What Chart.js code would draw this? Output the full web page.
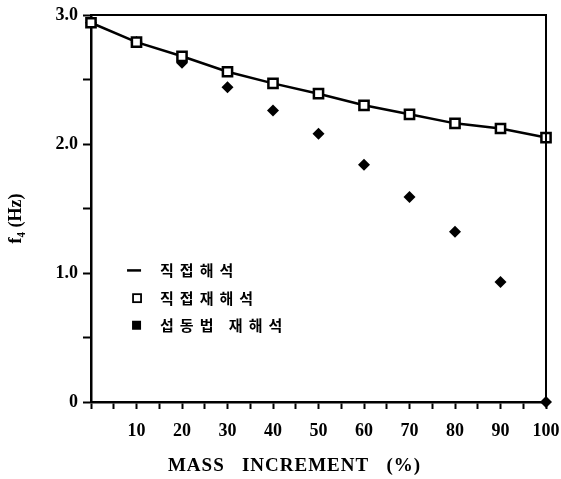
<!DOCTYPE html>
<html>
<head>
<meta charset="utf-8">
<script src="https://cdn.jsdelivr.net/npm/chart.js@4.4.0/dist/chart.umd.min.js"></script>
<style>
  html, body { margin: 0; padding: 0; background: #fff; }
  #wrap { width: 561px; height: 479px; position: relative; }
</style>
</head>
<body>
<div id="wrap"><canvas id="c" width="561" height="479"></canvas></div>
<script>
// ---- data ----
const massIncrement = [0, 10, 20, 30, 40, 50, 60, 70, 80, 90, 100];
const directAnalysis = [2.94, 2.79, 2.68, 2.56, 2.47, 2.39, 2.30, 2.23, 2.16, 2.12, 2.05];
const directReanalysis = [2.94, 2.79, 2.68, 2.56, 2.47, 2.39, 2.30, 2.23, 2.16, 2.12, 2.05];
const perturbationReanalysis = [2.94, 2.79, 2.63, 2.44, 2.26, 2.08, 1.84, 1.59, 1.32, 0.93, 0.0];
const xMajorTicks = [10, 20, 30, 40, 50, 60, 70, 80, 90, 100];
const yTickLabels = { 0: '0', 1: '1.0', 2: '2.0', 3: '3.0' };
const legendLabels = ['직접해석', '직접재해석', '섭동법 재해석'];
const xTitle = 'MASS   INCREMENT   (%)';
const yTitle = 'f\u2084 (Hz)';

const pts = (ys) => massIncrement.map((x, i) => ({ x: x, y: ys[i] }));

const serif = "'Liberation Serif', 'Times New Roman', serif";

const framePlugin = {
  id: 'frame',
  afterDatasetsDraw(chart) {
    const { ctx, chartArea: a } = chart;
    ctx.save();
    ctx.strokeStyle = '#000';
    ctx.lineWidth = 2;
    ctx.beginPath();
    ctx.moveTo(a.left, a.top);
    ctx.lineTo(a.right, a.top);
    ctx.lineTo(a.right, a.bottom);
    ctx.stroke();
    ctx.restore();
  },
  afterDraw(chart) {
    const { ctx, chartArea: a } = chart;
    const xs = chart.scales.x, ys = chart.scales.y;
    ctx.save();
    ctx.strokeStyle = '#000';
    ctx.fillStyle = '#000';

    // axis titles
    ctx.textAlign = 'center';
    ctx.textBaseline = 'middle';
    ctx.font = 'bold 19px ' + serif;
    try { ctx.letterSpacing = '1px'; } catch (e) {}
    ctx.fillText(xTitle, (a.left + a.right) / 2 - 24, xs.bottom - 13);
    try { ctx.letterSpacing = '0px'; } catch (e) {}
    ctx.save();
    ctx.translate(16, (a.top + a.bottom) / 2 + 10);
    ctx.rotate(-Math.PI / 2);
    ctx.font = 'bold 18px ' + serif;
    ctx.fillText(yTitle, 0, 0);
    ctx.restore();

    // legend anchored in data space
    const lx = xs.getPixelForValue(11);
    const rows = [ys.getPixelForValue(1.02), ys.getPixelForValue(0.805), ys.getPixelForValue(0.595)];
    ctx.lineWidth = 2.5;
    ctx.beginPath();
    ctx.moveTo(lx - 14, rows[0]);
    ctx.lineTo(lx, rows[0]);
    ctx.stroke();
    ctx.lineWidth = 1.8;
    ctx.strokeRect(lx - 8, rows[1] - 4, 8, 8);
    ctx.fillRect(lx - 9, rows[2] - 4.5, 9, 9);
    ctx.font = "bold 15px 'Noto Sans CJK KR', sans-serif";
    ctx.textBaseline = 'middle';
    ctx.textAlign = 'left';
    try { ctx.letterSpacing = '6px'; } catch (e) {}
    legendLabels.forEach((t, i) => ctx.fillText(t, lx + 19, rows[i]));
    ctx.restore();
  }
};

new Chart(document.getElementById('c'), {
  type: 'line',
  data: {
    datasets: [
      {
        label: legendLabels[0] + ' / ' + legendLabels[1],
        data: pts(directAnalysis),
        borderColor: '#000',
        borderWidth: 2.5,
        pointStyle: 'rect',
        pointRadius: 6.5,
        pointBorderWidth: 2.5,
        pointBackgroundColor: '#fff',
        pointBorderColor: '#000',
        fill: false,
        tension: 0,
        clip: false,
        order: 1
      },
      {
        label: legendLabels[2],
        data: pts(perturbationReanalysis),
        showLine: false,
        pointStyle: 'rectRot',
        pointRadius: 6,
        pointBorderWidth: 0,
        pointBackgroundColor: '#000',
        pointBorderColor: '#000',
        clip: false,
        order: 2
      }
    ]
  },
  options: {
    responsive: false,
    animation: false,
    devicePixelRatio: 1,
    layout: { padding: { left: 0, top: 15, right: 15, bottom: 0 } },
    plugins: { legend: { display: false }, tooltip: { enabled: false } },
    scales: {
      x: {
        type: 'linear',
        min: 0,
        max: 100,
        afterFit(s) { s.height = 77; s.paddingRight = 0; s.paddingLeft = 0; },
        afterBuildTicks(s) {
          const t = [];
          for (let v = 0; v <= 100; v += 5) t.push({ value: v });
          s.ticks = t;
        },
        ticks: {
          autoSkip: false,
          maxRotation: 0,
          padding: 12,
          color: '#000',
          font: { family: serif, size: 18, weight: 'bold' },
          callback: (v) => xMajorTicks.includes(v) ? String(v) : ''
        },
        grid: { drawOnChartArea: false, color: '#000', tickLength: 7, tickWidth: 2 },
        border: { color: '#000', width: 2.5 },
        title: { display: false }
      },
      y: {
        type: 'linear',
        min: 0,
        max: 3,
        afterFit(s) { s.width = 91; s.paddingTop = 0; s.paddingBottom = 0; },
        afterBuildTicks(s) {
          const t = [];
          for (let v = 0; v <= 6; v++) t.push({ value: v / 2 });
          s.ticks = t;
        },
        ticks: {
          autoSkip: false,
          padding: 5,
          color: '#000',
          font: { family: serif, size: 18, weight: 'bold' },
          callback: (v) => (yTickLabels[v] !== undefined ? yTickLabels[v] : '')
        },
        grid: { drawOnChartArea: false, color: '#000', tickLength: 8, tickWidth: 2 },
        border: { color: '#000', width: 2.5 },
        title: { display: false }
      }
    }
  },
  plugins: [framePlugin]
});
</script>
</body>
</html>
